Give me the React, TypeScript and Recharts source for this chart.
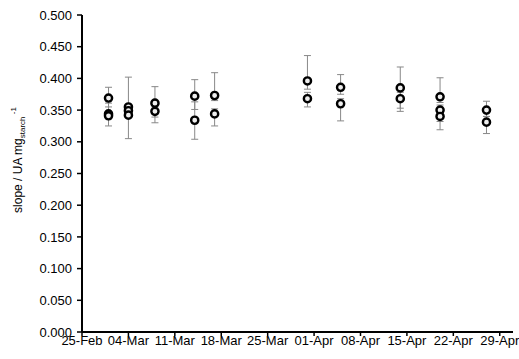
import { ScatterChart, Scatter, XAxis, YAxis, ErrorBar } from 'recharts'

// days counted from 25-Feb
const tickDays = [0, 7, 14, 21, 28, 35, 42, 49, 56, 63]
const tickLabels = ['25-Feb', '04-Mar', '11-Mar', '18-Mar', '25-Mar', '01-Apr', '08-Apr', '15-Apr', '22-Apr', '29-Apr']
const yTicks = [0, 0.05, 0.1, 0.15, 0.2, 0.25, 0.3, 0.35, 0.4, 0.45, 0.5]

const sampleDays = [4, 4, 4, 7, 7, 7, 11, 11, 17, 17, 20, 20, 34, 34, 39, 39, 48, 48, 54, 54, 54, 61, 61]
const slopes = [0.369, 0.344, 0.341, 0.355, 0.349, 0.342, 0.361, 0.348, 0.372, 0.334, 0.373, 0.344, 0.396, 0.368, 0.386, 0.360, 0.385, 0.368, 0.371, 0.350, 0.340, 0.350, 0.331]
const lowBounds = [0.355, 0.325, 0.341, 0.355, 0.305, 0.342, 0.339, 0.330, 0.351, 0.304, 0.365, 0.325, 0.383, 0.355, 0.375, 0.333, 0.353, 0.348, 0.362, 0.332, 0.319, 0.340, 0.313]
const highBounds = [0.386, 0.361, 0.341, 0.355, 0.402, 0.342, 0.387, 0.355, 0.398, 0.363, 0.409, 0.352, 0.436, 0.378, 0.406, 0.368, 0.418, 0.378, 0.401, 0.358, 0.345, 0.364, 0.340]

const points = sampleDays.map((day, i) => ({
  day,
  slope: slopes[i],
  err: [slopes[i] - lowBounds[i], highBounds[i] - slopes[i]],
}))

const font = 'Liberation Sans, Arial, sans-serif'

const Marker = (props: any) => (
  <circle cx={props.cx} cy={props.cy} r={3.6} fill="#eeeeee" stroke="#000" strokeWidth={2.4} />
)

const YLabel = () => (
  <text
    x={22}
    y={160}
    transform="rotate(-90, 22, 160)"
    textAnchor="middle"
    fontFamily={font}
    fontSize={12}
    fill="#000"
  >
    {'slope / UA mg'}
    <tspan fontSize={8} dy={3}>starch</tspan>
    <tspan fontSize={8} dy={-9}>{' -1'}</tspan>
  </text>
)

export default function App() {
  return (
    <div style={{ position: 'absolute', left: 0, top: 0, background: '#fff' }}>
      <ScatterChart width={519} height={359} margin={{ top: 15, right: 6, bottom: 0, left: 0 }}>
        <XAxis
          type="number"
          dataKey="day"
          domain={[0, 65]}
          ticks={tickDays}
          interval={0}
          tickFormatter={(v) => tickLabels[tickDays.indexOf(v)]}
          height={27}
          tickSize={4}
          tickMargin={0}
          axisLine={{ stroke: '#000', strokeWidth: 2 }}
          tickLine={{ stroke: '#000', strokeWidth: 1.5 }}
          tick={{ fill: '#000', fontSize: 13, fontFamily: font }}
        />
        <YAxis
          type="number"
          dataKey="slope"
          domain={[0, 0.5]}
          ticks={yTicks}
          interval={0}
          tickFormatter={(v) => v.toFixed(3)}
          width={82}
          tickSize={5}
          tickMargin={5}
          axisLine={{ stroke: '#000', strokeWidth: 2 }}
          tickLine={{ stroke: '#000', strokeWidth: 1.5 }}
          tick={{ fill: '#000', fontSize: 13, fontFamily: font }}
          label={{ content: () => <YLabel /> }}
        />
        <Scatter data={points} shape={Marker} isAnimationActive={false}>
          <ErrorBar dataKey="err" direction="y" width={3.5} stroke="#888" strokeWidth={1} />
        </Scatter>
      </ScatterChart>
    </div>
  )
}
